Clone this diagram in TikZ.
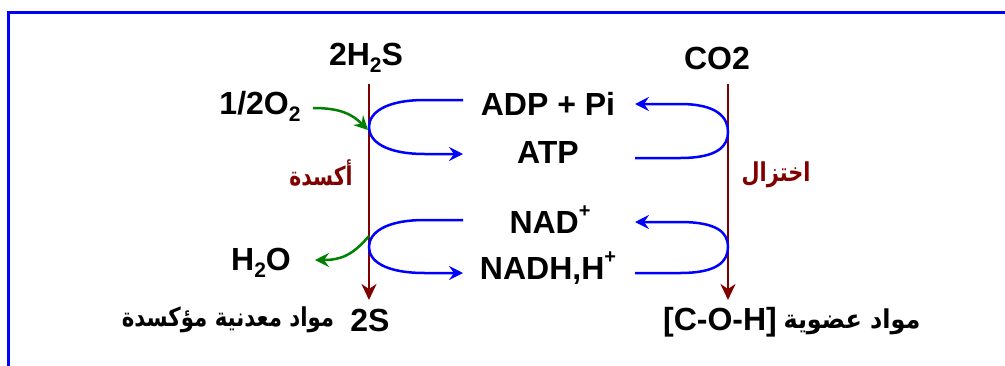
\documentclass[tikz,border=0pt]{standalone}
\usepackage{fontspec}
\usepackage{graphicx}
\setmainfont{Liberation Sans}
\newfontfamily\arabicfont[Script=Arabic]{DejaVu Sans}
\TeXXeTstate=1
\usetikzlibrary{arrows.meta}
\definecolor{brn}{RGB}{128,0,0}
\definecolor{grn}{RGB}{0,128,0}
\definecolor{blu}{RGB}{0,0,255}
\newcommand\chsub[1]{\raisebox{-0.22em}{\fontsize{21}{21}\selectfont #1}}
\newcommand\chsup[1]{\raisebox{0.5em}{\fontsize{20}{20}\selectfont #1}}
\tikzset{
  lbl/.style={font=\fontsize{32}{36}\selectfont\bfseries, inner sep=0pt},
  arlbl/.style={font=\fontsize{26}{30}\selectfont\arabicfont\bfseries, inner sep=0pt},
  redlbl/.style={arlbl, text=brn},
  axis/.style={draw=brn, line width=2.5pt, -{Stealth[length=16pt,width=15pt,inset=5pt]}},
  loopline/.style={draw=blu, line width=2.5pt},
  looparrow/.style={loopline, -{Stealth[length=14pt,width=14pt,inset=5pt]}},
  garrow/.style={draw=grn, line width=2.5pt, -{Stealth[length=14pt,width=14pt,inset=5pt]}},
  frame/.style={draw=blu, line width=3pt}
}
\begin{document}
\begin{tikzpicture}[x=1pt,y=-1pt]
\useasboundingbox (0,0) rectangle (1005,365);
\clip (0,0) rectangle (1005,365);
\draw[frame] (8,12) rectangle (1030,390);
% labels
\node[lbl] (h2s) at (366,58) {2H\chsub{2}S};
\node[lbl] (co2) at (717,58) {CO2};
\node[lbl] (o2) at (260,106) {1/2O\chsub{2}};
\node[lbl] (h2o) at (261,263) {H\chsub{2}O};
\node[lbl] (adp) at (548,104) {ADP + Pi};
\node[lbl] (atp) at (548,152) {ATP};
\node[lbl] (nad) at (550,220) {NAD\chsup{+}};
\node[lbl] (nadh) at (548,268) {NADH,H\chsup{+}};
\node[lbl] (s2) at (370,320) {2S};
\node[arlbl] (armin) at (228,320) {\scalebox{0.82}[1]{\beginR مواد معدنية مؤكسدة\endR}};
\node[lbl] (coh) at (720,322) {[C-O-H]};
\node[arlbl] (arorg) at (852,322) {\scalebox{0.92}[1]{\beginR مواد عضوية\endR}};
\node[redlbl] (oxid) at (321,173) {\scalebox{0.78}[1]{\beginR أكسدة\endR}};
\node[redlbl] (red) at (776,175) {\scalebox{0.8}[1]{\beginR اختزال\endR}};
% axes
\coordinate (lt) at (369,84);
\coordinate (lb) at (369,300);
\coordinate (rt) at (728,84);
\coordinate (rb) at (728,300);
\draw[axis] (lt) -- (lb);
\draw[axis] (rt) -- (rb);
% left loops
\coordinate (a1) at (463,100);
\coordinate (a2) at (463,154);
\draw[looparrow] (a1) -- (425,100) .. controls (385,100) and (369,113) .. (369,127)
  .. controls (369,141) and (385,154) .. (425,154) -- (a2);
\coordinate (b1) at (463,220);
\coordinate (b2) at (463,273);
\draw[looparrow] (b1) -- (425,220) .. controls (385,220) and (369,233) .. (369,247)
  .. controls (369,261) and (385,273) .. (425,273) -- (b2);
% right loops
\coordinate (c1) at (635,158);
\coordinate (c2) at (635,104);
\draw[looparrow] (c1) -- (680,158) .. controls (718,158) and (728,146) .. (728,132)
  .. controls (728,118) and (718,104) .. (680,104) -- (c2);
\coordinate (d1) at (635,273);
\coordinate (d2) at (635,222);
\draw[looparrow] (d1) -- (680,273) .. controls (718,273) and (728,261) .. (728,247)
  .. controls (728,233) and (718,222) .. (680,222) -- (d2);
% green arrows
\coordinate (g1s) at (313,108);
\coordinate (g1e) at (368,130);
\draw[garrow] (g1s) .. controls (340,108) and (352,114) .. (g1e);
\coordinate (g2s) at (369,236);
\coordinate (g2e) at (315,260);
\draw[garrow] (g2s) .. controls (352,256) and (340,260) .. (g2e);
\end{tikzpicture}
\end{document}
